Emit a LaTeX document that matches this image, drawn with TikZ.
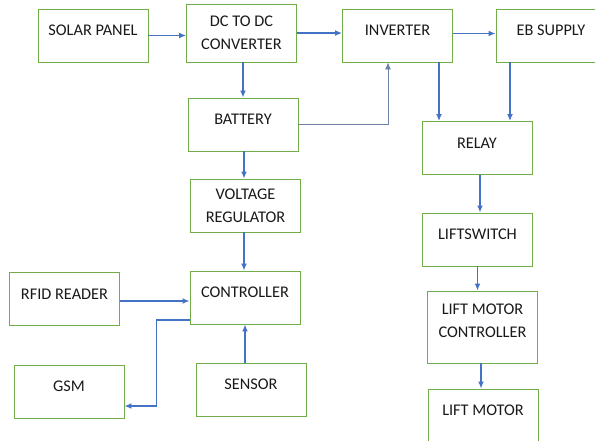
\documentclass[tikz,border=0pt]{standalone}
\usepackage{fontspec}
\setmainfont{Carlito}
\usepackage{tikz}
\usetikzlibrary{positioning,calc,arrows.meta}
\definecolor{boxgreen}{RGB}{112,173,71}
\definecolor{arrblue}{RGB}{68,114,196}
\definecolor{thinblue}{RGB}{110,130,165}

\begin{document}
\begin{tikzpicture}[x=1pt,y=-1pt,
  blk/.style={draw=boxgreen,line width=0.9pt,align=center,inner sep=0pt,
              font=\fontsize{16.3}{23}\selectfont,text=black!90,
              minimum width=110pt,minimum height=53pt},
  one/.style={text height=10.5pt,text depth=10.5pt},
  arr/.style={-{Latex[length=7pt,width=6pt]},line width=1.6pt,color=arrblue}]
  \clip (0,0) rectangle (595,440);
  \node[blk,one] (solar)  at (93,35.5)    {SOLAR PANEL};
  \node[blk,minimum height=58pt] (dcdc) at (241.5,33) {DC TO DC\\CONVERTER};
  \node[blk,one] (bat)    at (243,124.5)  {BATTERY};
  \node[blk,one] (inv)    at (397.5,35.5) {INVERTER};
  \node[blk,one] (eb)     at (551,35.5)   {EB SUPPLY};
  \node[blk,one] (relay)  at (477,148)    {RELAY};
  \node[blk] (vreg)       at (245.5,205.5){VOLTAGE\\REGULATOR};
  \node[blk,one] (ctrl)   at (245,297.5)  {CONTROLLER};
  \node[blk,one] (rfid)   at (64.5,299)   {RFID READER};
  \node[blk,one] (gsm)    at (69,391.5)   {GSM};
  \node[blk,one] (sensor) at (251,389.5)  {SENSOR};
  \node[blk,one] (lsw)    at (477.5,239.5){LIFTSWITCH};
  \node[blk,minimum height=72pt,text depth=12pt] (lmc) at (482.5,327) {LIFT MOTOR\\CONTROLLER};
  \node[blk,one] (motor)  at (483,415.5)  {LIFT MOTOR};
  \draw[arr] (solar.east) -- (solar.east -| dcdc.west);
  \draw[arr] (dcdc.east) -- (dcdc.east -| inv.west);
  \draw[arr] ([yshift=2pt]inv.east) -- ([yshift=2pt]inv.east -| eb.west);
  \draw[arr] (dcdc.south -| bat.north) -- (bat.north);
  \draw[arr] ([xshift=1pt]bat.south) -- ([xshift=1pt]bat.south |- vreg.north);
  \draw[arr] ([xshift=-1.5pt]vreg.south) -- ([xshift=-1.5pt]vreg.south |- ctrl.north);
  \draw[-{Latex[length=7pt,width=6pt]},line width=0.8pt,thinblue] (bat.east) -| ([xshift=-9.5pt]inv.south);
  \draw[arr] ([xshift=41.5pt]inv.south) -- ([xshift=41.5pt]inv.south |- relay.north);
  \draw[arr] ([xshift=-41pt]eb.south) -- ([xshift=-41pt]eb.south |- relay.north);
  \draw[arr] ([xshift=3pt]relay.south) -- ([xshift=3pt]relay.south |- lsw.north);
  \draw[arr] (lsw.south) -- (lsw.south |- lmc.north);
  \draw[arr] ([xshift=-1.5pt]lmc.south) -- ([xshift=-1.5pt]lmc.south |- motor.north);
  \draw[arr] ([yshift=-2pt]rfid.east) -- ([yshift=-2pt]rfid.east -| ctrl.west);
  \draw[arr] ([yshift=-22.5pt]ctrl.west) -- ++(-33,0) |- ([yshift=-14.5pt]gsm.east);
  \draw[arr] ([xshift=-6pt]sensor.north) -- ([xshift=-6pt]sensor.north |- ctrl.south);
\end{tikzpicture}
\end{document}
